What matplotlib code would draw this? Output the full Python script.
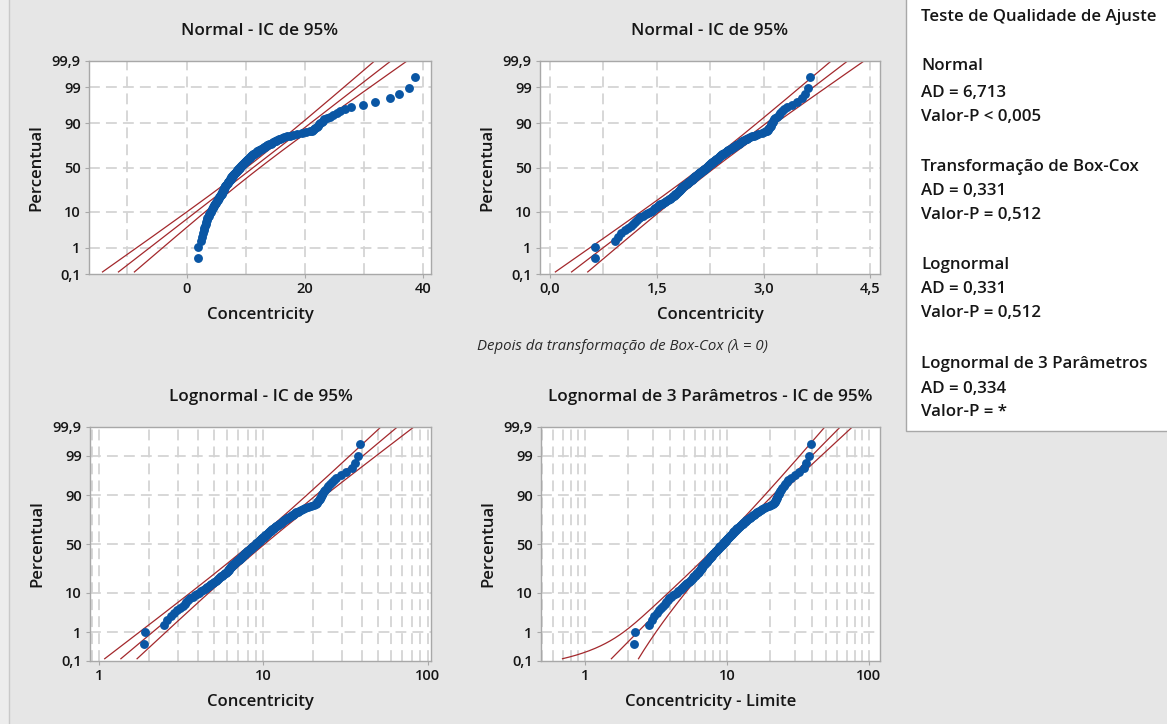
import numpy as np
import matplotlib
matplotlib.use('Agg')
import matplotlib.pyplot as plt
from matplotlib.patches import Rectangle
from statistics import NormalDist

# sorted Concentricity sample (n = 165)
concentricity = [
    1.87, 1.89, 2.48, 2.60, 2.73, 2.86, 2.98, 3.11, 3.22, 3.31, 3.39, 3.48,
    3.56, 3.70, 3.84, 3.96, 4.07, 4.19, 4.30, 4.39, 4.47, 4.56, 4.64, 4.72,
    4.80, 4.91, 5.02, 5.13, 5.23, 5.31, 5.38, 5.46, 5.53, 5.60, 5.68, 5.75,
    5.82, 5.90, 5.97, 6.04, 6.11, 6.15, 6.19, 6.24, 6.28, 6.32, 6.36, 6.41,
    6.48, 6.55, 6.63, 6.70, 6.77, 6.85, 6.92, 6.99, 7.06, 7.12, 7.18, 7.25,
    7.31, 7.37, 7.44, 7.50, 7.57, 7.63, 7.70, 7.76, 7.83, 7.90, 7.98, 8.05,
    8.12, 8.20, 8.27, 8.35, 8.43, 8.50, 8.58, 8.66, 8.74, 8.82, 8.90, 8.98,
    9.06, 9.14, 9.22, 9.30, 9.38, 9.46, 9.54, 9.63, 9.71, 9.80, 9.89, 9.98,
    10.07, 10.16, 10.26, 10.35, 10.45, 10.54, 10.64, 10.74, 10.84, 10.95, 11.05, 11.16,
    11.27, 11.39, 11.53, 11.67, 11.81, 11.95, 12.10, 12.25, 12.40, 12.56, 12.72, 12.88,
    13.05, 13.22, 13.40, 13.58, 13.77, 13.98, 14.19, 14.40, 14.63, 14.86, 15.09, 15.34,
    15.59, 15.86, 16.13, 16.52, 16.98, 17.46, 17.96, 18.67, 19.57, 20.19, 20.83, 21.14,
    21.33, 21.52, 21.73, 21.95, 22.15, 22.35, 22.57, 22.80, 23.04, 23.30, 23.71, 24.30,
    24.80, 25.40, 26.0, 26.8, 27.8, 29.8, 31.9, 34.4, 35.9, 37.6, 38.6,
]

threshold = -0.35  # 3-parameter lognormal threshold ("Limite")

titles = ['Normal - IC de 95%', 'Normal - IC de 95%',
          'Lognormal - IC de 95%', 'Lognormal de 3 Parâmetros - IC de 95%']
xlabels = ['Concentricity', 'Concentricity', 'Concentricity', 'Concentricity - Limite']

pct_ticks = [0.1, 1, 10, 50, 90, 99, 99.9]
pct_labels = ['0,1', '1', '10', '50', '90', '99', '99,9']

gof_lines = [
    ('Teste de Qualidade de Ajuste', 17),
    ('Normal', 66), ('AD = 6,713', 93), ('Valor-P < 0,005', 117),
    ('Transformação de Box-Cox', 167), ('AD = 0,331', 191), ('Valor-P = 0,512', 215),
    ('Lognormal', 265), ('AD = 0,331', 289), ('Valor-P = 0,512', 313),
    ('Lognormal de 3 Parâmetros', 364), ('AD = 0,334', 389), ('Valor-P = *', 412),
]

W, H = 1167, 724
BG = '#e6e6e6'
BLUE = '#0a56a4'
RED = '#a3282c'
GRID = '#d4d4d4'
INK = '#161616'
FONT = ['Open Sans', 'DejaVu Sans']

nd = NormalDist()
ppf = np.vectorize(lambda p: nd.inv_cdf(min(max(p / 100.0, 1e-9), 1 - 1e-9)), otypes=[float])
cdf = np.vectorize(lambda z: nd.cdf(z) * 100.0, otypes=[float])

plt.rcParams['font.family'] = FONT

data = np.array(concentricity)
n = len(data)
ranks = np.arange(1, n + 1)
pct = (ranks - 0.3) / (n + 0.4) * 100.0  # median ranks (Benard)

fig = plt.figure(figsize=(W / 100, H / 100), dpi=100, facecolor=BG)
fig.patches.append(Rectangle((0, 0), 9 / W, 1, transform=fig.transFigure,
                             facecolor='#ededed', edgecolor='none', zorder=0))
fig.lines.append(plt.Line2D([9 / W, 9 / W], [0, 1], transform=fig.transFigure,
                            color='#c9c9c9', lw=1))


def px_axes(x0, x1, y0, y1):
    return fig.add_axes([x0 / W, 1 - y1 / H, (x1 - x0) / W, (y1 - y0) / H])


axes = [px_axes(89, 431, 61, 274), px_axes(540, 880, 61, 274),
        px_axes(90, 431, 427, 661), px_axes(541, 880, 427, 661)]

zg = np.linspace(-3.03, 3.4, 400)
pg = cdf(zg)
k = 1.96


def normal_fit(x):
    mu, sd = x.mean(), x.std()
    half = k * sd * np.sqrt(1.0 / n + zg ** 2 / (2.0 * n))
    fit = mu + zg * sd
    return fit, fit - half, fit + half


# 1: normal on raw data
f1 = normal_fit(data)
# 2: normal after Box-Cox (lambda = 0)
lnx = np.log(data)
f2 = normal_fit(lnx)
# 3: lognormal
f3 = [np.exp(c) for c in f2]
# 4: 3-parameter lognormal (percentile CI in linear units, widened by threshold uncertainty)
shifted = data - threshold
ls = np.log(shifted)
m4, s4 = ls.mean(), ls.std()
e4 = np.exp(m4 + zg * s4)
base4 = e4 ** 2 * (s4 ** 2 / n) * (1 + zg ** 2 / 2.0)
var_lo = base4 + 0.155 * np.exp(-(e4 - e4[0]) / 0.35)
var_hi = np.clip(base4 + 0.22 - 0.04 * e4, 1e-6, None)
lo4 = e4 - k * np.sqrt(var_lo)
lo4 = np.where(lo4 > 0.05, lo4, np.nan)
f4 = [e4, lo4, e4 + k * np.sqrt(var_hi)]

xs = [data, lnx, data, shifted]
fits = [f1, f2, f3, f4]

for i, ax in enumerate(axes):
    ax.set_facecolor('white')
    ax.set_yscale('function', functions=(ppf, cdf))
    ax.set_ylim(0.1, 99.9)
    ax.set_yticks(pct_ticks)
    ax.set_yticklabels(pct_labels)
    ax.yaxis.set_minor_locator(matplotlib.ticker.NullLocator())

    if i == 0:
        ax.set_xlim(-16.5, 41.3)
        ax.set_xticks([0, 20, 40])
        ax.set_xticklabels(['0', '20', '40'])
        vgrid = [-10, 0, 10, 20, 30, 40]
    elif i == 1:
        ax.set_xlim(-0.14, 4.635)
        ax.set_xticks([0, 1.5, 3.0, 4.5])
        ax.set_xticklabels(['0,0', '1,5', '3,0', '4,5'])
        vgrid = [0, 0.75, 1.5, 2.25, 3.0, 3.75, 4.5]
    else:
        ax.set_xscale('log')
        if i == 2:
            ax.set_xlim(0.878, 104.8)
        else:
            ax.set_xlim(0.49, 120)
        ax.set_xticks([1, 10, 100])
        ax.set_xticklabels(['1', '10', '100'])
        ax.xaxis.set_minor_locator(matplotlib.ticker.NullLocator())
        lo, hi = ax.get_xlim()
        vgrid = [m * 10 ** d for d in range(-1, 3) for m in range(1, 10)
                 if lo < m * 10 ** d < hi]

    for gx in vgrid:
        ax.axvline(gx, color=GRID, lw=1.3, dashes=(6, 3.4), zorder=0)
    for gy in pct_ticks[1:-1]:
        ax.axhline(gy, color=GRID, lw=1.3, dashes=(6, 3.4), zorder=0)

    for c in fits[i]:
        ax.plot(c, pg, color=RED, lw=0.9, zorder=2)
    ax.plot(xs[i], pct, 'o', color=BLUE, ms=6.4, mec=BLUE, mew=0, zorder=3)

    for s in ax.spines.values():
        s.set_color('#a8a8a8')
        s.set_linewidth(1)
    ax.tick_params(length=3, width=0.8, color='#a8a8a8', labelsize=10.5,
                   labelcolor=INK, pad=3)
    for lab in ax.get_xticklabels() + ax.get_yticklabels():
        lab.set_fontweight('semibold')

    top_off = 30 / (213 if i < 2 else 234)
    ax.text(0.5, 1 + top_off, titles[i], transform=ax.transAxes, ha='center',
            va='center', fontsize=12.3, fontweight='semibold', color=INK)
    ax.set_xlabel(xlabels[i], fontsize=12, fontweight='semibold', color=INK, labelpad=8)
    ax.set_ylabel('Percentual', fontsize=12, fontweight='semibold', color=INK, labelpad=5)

fig.text(622 / W, 1 - 347 / H, 'Depois da transformação de Box-Cox (λ = 0)',
         ha='center', va='center', fontsize=10.8, style='italic', color='#2a2a2a')

fig.patches.append(Rectangle((906 / W, 1 - 431 / H), (W - 906) / W + 0.01, 431 / H + 0.01,
                             transform=fig.transFigure, facecolor='white',
                             edgecolor='#a8a8a8', lw=1, zorder=1))
for txt, y in gof_lines:
    fig.text(921 / W, 1 - y / H, txt, ha='left', va='center', fontsize=12.2,
             fontweight='semibold', color=INK, zorder=2)

fig.savefig('out.png', dpi=100, facecolor=BG)
